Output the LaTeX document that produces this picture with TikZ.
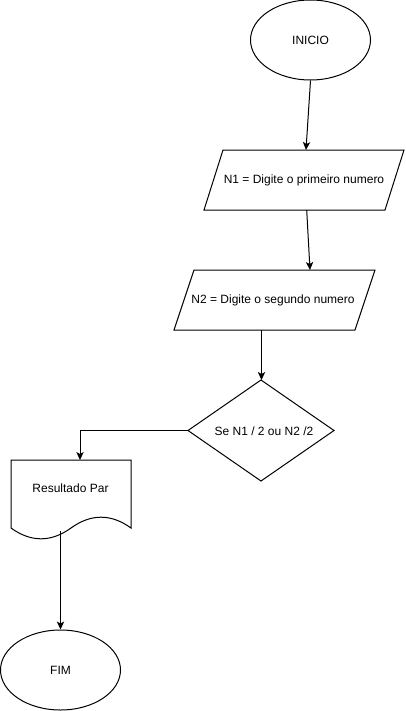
\documentclass[tikz,border=0pt]{standalone}
\usepackage{fontspec}
\setmainfont{Liberation Sans}
\usetikzlibrary{shapes.geometric,arrows.meta}
\begin{document}
\begin{tikzpicture}[x=0.75pt,y=-0.75pt,
  line width=0.75pt,
  every node/.style={font=\fontsize{9}{11}\selectfont},
  shp/.style={draw=black,line width=0.75pt},
  term/.style={shp,ellipse,minimum width=90pt,minimum height=60pt,inner sep=0pt},
  lbl/.style={inner sep=0pt},
  arr/.style={draw=black,line width=0.75pt,-{Stealth[length=6pt,width=5.5pt,inset=1.5pt]}}]
\useasboundingbox (0,0) rectangle (405,711);
\fill[white] (0,0) rectangle (405,711);

% INICIO
\node[term] (inicio) at (310.5,40) {INICIO};

% Parallelogram 1
\draw[shp] (223,150) -- (404,150) -- (385,210) -- (204,210) -- cycle;
\node[lbl] (p1) at (304,180) {N1 = Digite o primeiro numero};
\coordinate (p1in) at (306,150);
\coordinate (p1out) at (306.7,210);

% Parallelogram 2
\draw[shp] (194,270) -- (375,270) -- (355,330) -- (174,330) -- cycle;
\node[lbl] (p2) at (273,300) {N2 = Digite o segundo numero};
\coordinate (p2in) at (310,270);
\coordinate (p2out) at (261.5,330);

% Decision
\draw[shp] (261,380) -- (334,430.5) -- (261,481) -- (188,430.5) -- cycle;
\node[lbl] (dec) at (264,431) {Se N1 / 2 ou N2 /2};
\coordinate (decin) at (261.5,380);
\coordinate (decout) at (188,430.5);

% Document
\draw[shp] (11,460) -- (131,460) -- (131,528)
  .. controls (111,513.6) and (91,513.6) .. (71,528)
  .. controls (51,542.4) and (31,542.4) .. (11,528) -- cycle;
\node[lbl] (doc) at (70.5,488) {Resultado Par};
\coordinate (docin) at (80,460);
\coordinate (docout) at (60.5,531);

% FIM
\node[term] (fim) at (60.5,670) {FIM};

% Connectors
\draw[arr] (inicio.south) -- (p1in);
\draw[arr] (p1out) -- (p2in);
\draw[arr] (p2out) -- (decin);
\draw[arr] (decout) -| (docin);
\draw[arr] (docout) -- (fim.north);
\end{tikzpicture}
\end{document}
